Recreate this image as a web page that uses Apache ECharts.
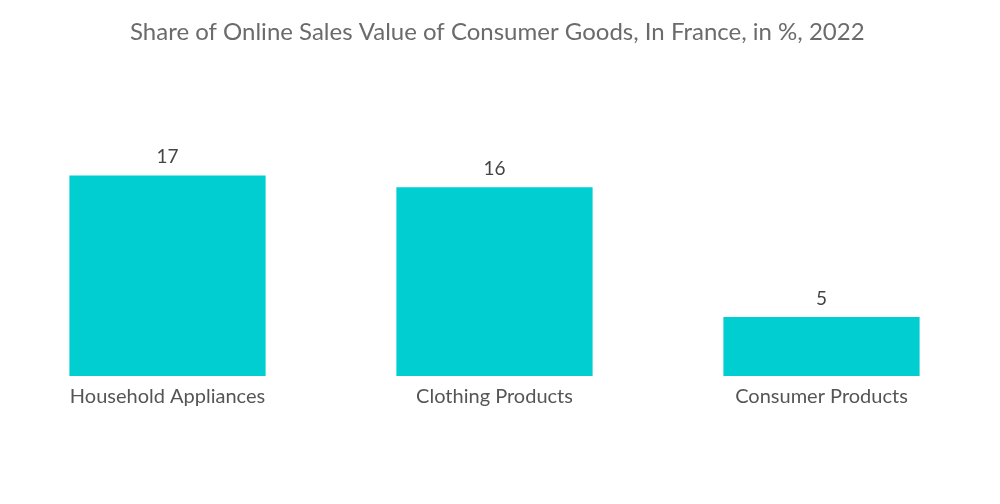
<!DOCTYPE html>
<html>
<head>
<meta charset="utf-8">
<script src="https://cdn.jsdelivr.net/npm/echarts@6/dist/echarts.min.js"></script>
<style>html,body{margin:0;padding:0;background:#fff}#c{width:1000px;height:504px}</style>
</head>
<body>
<div id="c"></div>
<script>
const titleText = 'Share of Online Sales Value of Consumer Goods, In France, in %, 2022';
const categories = ['Household Appliances', 'Clothing Products', 'Consumer Products'];
const values = [17, 16, 5];

const chart = echarts.init(document.getElementById('c'), null, {renderer: 'canvas'});
chart.setOption({
  animation: false,
  backgroundColor: '#ffffff',
  title: {
    text: titleText,
    left: 125,
    top: 15,
    textStyle: {fontFamily: 'Lato', fontWeight: 'normal', fontSize: 24, color: '#6b6b6b'}
  },
  grid: {left: 4, right: 15, top: 140, bottom: 128},
  xAxis: {
    type: 'category',
    data: categories,
    axisLine: {show: false},
    axisTick: {show: false},
    axisLabel: {fontFamily: 'Lato', fontSize: 20, color: '#555555', margin: 11}
  },
  yAxis: {
    type: 'value',
    min: 0,
    max: 20,
    show: false,
    splitLine: {show: false}
  },
  series: [{
    type: 'bar',
    data: values,
    barWidth: '60%',
    itemStyle: {color: '#00CED1'},
    label: {show: true, position: 'top', distance: 9, fontFamily: 'Lato', fontSize: 19, color: '#444444'}
  }]
});
</script>
</body>
</html>
